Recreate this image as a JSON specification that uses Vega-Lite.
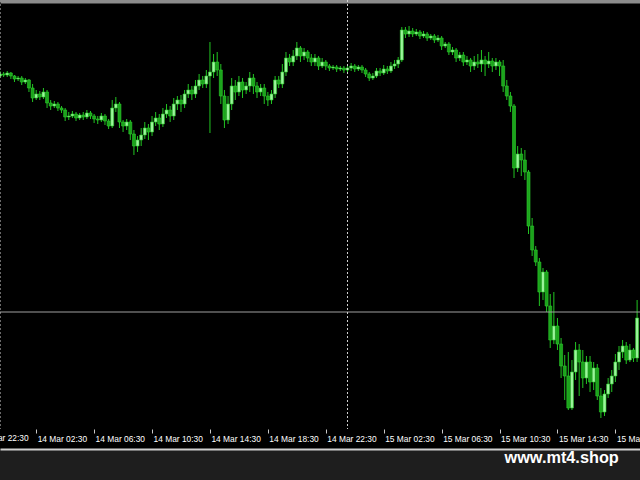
{
"$schema": "https://vega.github.io/schema/vega-lite/v6.json",
"width": 640,
"height": 449,
"autosize": {"type": "none"},
"padding": {"left": 0, "top": 0, "right": 0, "bottom": 31},
"background": "#1e1e1e",
"config": {"view": {"fill": "#000000", "stroke": null}},
"data": {"values": [
{"t":"2023-03-14T00:00","o":1.3373,"h":1.3378,"l":1.3371,"c":1.3375},
{"t":"2023-03-14T00:15","o":1.3375,"h":1.3377,"l":1.3372,"c":1.3374},
{"t":"2023-03-14T00:30","o":1.3374,"h":1.3378,"l":1.3372,"c":1.3376},
{"t":"2023-03-14T00:45","o":1.3376,"h":1.3377,"l":1.3370,"c":1.3373},
{"t":"2023-03-14T01:00","o":1.3373,"h":1.3374,"l":1.3367,"c":1.3370},
{"t":"2023-03-14T01:15","o":1.3370,"h":1.3373,"l":1.3368,"c":1.3371},
{"t":"2023-03-14T01:30","o":1.3371,"h":1.3373,"l":1.3364,"c":1.3367},
{"t":"2023-03-14T01:45","o":1.3367,"h":1.3371,"l":1.3365,"c":1.3369},
{"t":"2023-03-14T02:00","o":1.3369,"h":1.3370,"l":1.3357,"c":1.3361},
{"t":"2023-03-14T02:15","o":1.3361,"h":1.3365,"l":1.3347,"c":1.3351},
{"t":"2023-03-14T02:30","o":1.3351,"h":1.3359,"l":1.3349,"c":1.3355},
{"t":"2023-03-14T02:45","o":1.3355,"h":1.3358,"l":1.3349,"c":1.3352},
{"t":"2023-03-14T03:00","o":1.3352,"h":1.3361,"l":1.3350,"c":1.3357},
{"t":"2023-03-14T03:15","o":1.3357,"h":1.3359,"l":1.3341,"c":1.3346},
{"t":"2023-03-14T03:30","o":1.3346,"h":1.3349,"l":1.3339,"c":1.3343},
{"t":"2023-03-14T03:45","o":1.3343,"h":1.3348,"l":1.3341,"c":1.3345},
{"t":"2023-03-14T04:00","o":1.3345,"h":1.3347,"l":1.3338,"c":1.3341},
{"t":"2023-03-14T04:15","o":1.3341,"h":1.3343,"l":1.3336,"c":1.3339},
{"t":"2023-03-14T04:30","o":1.3339,"h":1.3341,"l":1.3328,"c":1.3332},
{"t":"2023-03-14T04:45","o":1.3332,"h":1.3337,"l":1.3329,"c":1.3333},
{"t":"2023-03-14T05:00","o":1.3333,"h":1.3338,"l":1.3331,"c":1.3335},
{"t":"2023-03-14T05:15","o":1.3335,"h":1.3337,"l":1.3328,"c":1.3331},
{"t":"2023-03-14T05:30","o":1.3331,"h":1.3336,"l":1.3329,"c":1.3334},
{"t":"2023-03-14T05:45","o":1.3334,"h":1.3337,"l":1.3329,"c":1.3332},
{"t":"2023-03-14T06:00","o":1.3332,"h":1.3339,"l":1.3330,"c":1.3336},
{"t":"2023-03-14T06:15","o":1.3336,"h":1.3338,"l":1.3330,"c":1.3333},
{"t":"2023-03-14T06:30","o":1.3333,"h":1.3335,"l":1.3326,"c":1.3330},
{"t":"2023-03-14T06:45","o":1.3330,"h":1.3333,"l":1.3325,"c":1.3329},
{"t":"2023-03-14T07:00","o":1.3329,"h":1.3336,"l":1.3327,"c":1.3333},
{"t":"2023-03-14T07:15","o":1.3333,"h":1.3335,"l":1.3324,"c":1.3328},
{"t":"2023-03-14T07:30","o":1.3328,"h":1.3330,"l":1.3320,"c":1.3323},
{"t":"2023-03-14T07:45","o":1.3323,"h":1.3349,"l":1.3321,"c":1.3341},
{"t":"2023-03-14T08:00","o":1.3341,"h":1.3352,"l":1.3337,"c":1.3345},
{"t":"2023-03-14T08:15","o":1.3345,"h":1.3347,"l":1.3321,"c":1.3327},
{"t":"2023-03-14T08:30","o":1.3327,"h":1.3329,"l":1.3317,"c":1.3323},
{"t":"2023-03-14T08:45","o":1.3323,"h":1.3330,"l":1.3319,"c":1.3327},
{"t":"2023-03-14T09:00","o":1.3327,"h":1.3329,"l":1.3309,"c":1.3315},
{"t":"2023-03-14T09:15","o":1.3315,"h":1.3319,"l":1.3294,"c":1.3303},
{"t":"2023-03-14T09:30","o":1.3303,"h":1.3313,"l":1.3297,"c":1.3309},
{"t":"2023-03-14T09:45","o":1.3309,"h":1.3321,"l":1.3303,"c":1.3314},
{"t":"2023-03-14T10:00","o":1.3314,"h":1.3327,"l":1.3310,"c":1.3321},
{"t":"2023-03-14T10:15","o":1.3321,"h":1.3325,"l":1.3309,"c":1.3317},
{"t":"2023-03-14T10:30","o":1.3317,"h":1.3333,"l":1.3313,"c":1.3327},
{"t":"2023-03-14T10:45","o":1.3327,"h":1.3337,"l":1.3323,"c":1.3331},
{"t":"2023-03-14T11:00","o":1.3331,"h":1.3335,"l":1.3319,"c":1.3325},
{"t":"2023-03-14T11:15","o":1.3325,"h":1.3341,"l":1.3322,"c":1.3335},
{"t":"2023-03-14T11:30","o":1.3335,"h":1.3345,"l":1.3331,"c":1.3339},
{"t":"2023-03-14T11:45","o":1.3339,"h":1.3343,"l":1.3327,"c":1.3333},
{"t":"2023-03-14T12:00","o":1.3333,"h":1.3351,"l":1.3329,"c":1.3345},
{"t":"2023-03-14T12:15","o":1.3345,"h":1.3353,"l":1.3339,"c":1.3349},
{"t":"2023-03-14T12:30","o":1.3349,"h":1.3354,"l":1.3337,"c":1.3345},
{"t":"2023-03-14T12:45","o":1.3345,"h":1.3359,"l":1.3341,"c":1.3355},
{"t":"2023-03-14T13:00","o":1.3355,"h":1.3365,"l":1.3351,"c":1.3359},
{"t":"2023-03-14T13:15","o":1.3359,"h":1.3363,"l":1.3349,"c":1.3355},
{"t":"2023-03-14T13:30","o":1.3355,"h":1.3369,"l":1.3351,"c":1.3363},
{"t":"2023-03-14T13:45","o":1.3363,"h":1.3375,"l":1.3359,"c":1.3369},
{"t":"2023-03-14T14:00","o":1.3369,"h":1.3373,"l":1.3361,"c":1.3365},
{"t":"2023-03-14T14:15","o":1.3365,"h":1.3379,"l":1.3361,"c":1.3373},
{"t":"2023-03-14T14:30","o":1.3373,"h":1.3407,"l":1.3316,"c":1.3377},
{"t":"2023-03-14T14:45","o":1.3377,"h":1.3395,"l":1.3371,"c":1.3387},
{"t":"2023-03-14T15:00","o":1.3387,"h":1.3397,"l":1.3373,"c":1.3379},
{"t":"2023-03-14T15:15","o":1.3379,"h":1.3385,"l":1.3345,"c":1.3353},
{"t":"2023-03-14T15:30","o":1.3353,"h":1.3359,"l":1.3321,"c":1.3329},
{"t":"2023-03-14T15:45","o":1.3329,"h":1.3353,"l":1.3325,"c":1.3345},
{"t":"2023-03-14T16:00","o":1.3345,"h":1.3371,"l":1.3339,"c":1.3363},
{"t":"2023-03-14T16:15","o":1.3363,"h":1.3369,"l":1.3349,"c":1.3357},
{"t":"2023-03-14T16:30","o":1.3357,"h":1.3373,"l":1.3353,"c":1.3367},
{"t":"2023-03-14T16:45","o":1.3367,"h":1.3371,"l":1.3351,"c":1.3359},
{"t":"2023-03-14T17:00","o":1.3359,"h":1.3367,"l":1.3355,"c":1.3363},
{"t":"2023-03-14T17:15","o":1.3363,"h":1.3377,"l":1.3357,"c":1.3371},
{"t":"2023-03-14T17:30","o":1.3371,"h":1.3375,"l":1.3355,"c":1.3363},
{"t":"2023-03-14T17:45","o":1.3363,"h":1.3367,"l":1.3351,"c":1.3357},
{"t":"2023-03-14T18:00","o":1.3357,"h":1.3365,"l":1.3353,"c":1.3361},
{"t":"2023-03-14T18:15","o":1.3361,"h":1.3365,"l":1.3345,"c":1.3353},
{"t":"2023-03-14T18:30","o":1.3353,"h":1.3357,"l":1.3343,"c":1.3349},
{"t":"2023-03-14T18:45","o":1.3349,"h":1.3359,"l":1.3345,"c":1.3355},
{"t":"2023-03-14T19:00","o":1.3355,"h":1.3373,"l":1.3351,"c":1.3369},
{"t":"2023-03-14T19:15","o":1.3369,"h":1.3373,"l":1.3361,"c":1.3365},
{"t":"2023-03-14T19:30","o":1.3365,"h":1.3385,"l":1.3361,"c":1.3377},
{"t":"2023-03-14T19:45","o":1.3377,"h":1.3397,"l":1.3373,"c":1.3391},
{"t":"2023-03-14T20:00","o":1.3391,"h":1.3395,"l":1.3383,"c":1.3387},
{"t":"2023-03-14T20:15","o":1.3387,"h":1.3399,"l":1.3383,"c":1.3393},
{"t":"2023-03-14T20:30","o":1.3393,"h":1.3407,"l":1.3389,"c":1.3401},
{"t":"2023-03-14T20:45","o":1.3401,"h":1.3403,"l":1.3387,"c":1.3393},
{"t":"2023-03-14T21:00","o":1.3393,"h":1.3401,"l":1.3389,"c":1.3397},
{"t":"2023-03-14T21:15","o":1.3397,"h":1.3399,"l":1.3387,"c":1.3391},
{"t":"2023-03-14T21:30","o":1.3391,"h":1.3395,"l":1.3383,"c":1.3387},
{"t":"2023-03-14T21:45","o":1.3387,"h":1.3395,"l":1.3383,"c":1.3391},
{"t":"2023-03-14T22:00","o":1.3391,"h":1.3393,"l":1.3379,"c":1.3383},
{"t":"2023-03-14T22:15","o":1.3383,"h":1.3391,"l":1.3381,"c":1.3387},
{"t":"2023-03-14T22:30","o":1.3387,"h":1.3389,"l":1.3379,"c":1.3383},
{"t":"2023-03-14T22:45","o":1.3383,"h":1.3385,"l":1.3378,"c":1.3381},
{"t":"2023-03-14T23:00","o":1.3381,"h":1.3384,"l":1.3379,"c":1.3382},
{"t":"2023-03-14T23:15","o":1.3382,"h":1.3384,"l":1.3377,"c":1.3380},
{"t":"2023-03-14T23:30","o":1.3380,"h":1.3383,"l":1.3378,"c":1.3381},
{"t":"2023-03-14T23:45","o":1.3381,"h":1.3383,"l":1.3376,"c":1.3379},
{"t":"2023-03-15T00:00","o":1.3379,"h":1.3384,"l":1.3377,"c":1.3381},
{"t":"2023-03-15T00:15","o":1.3381,"h":1.3386,"l":1.3378,"c":1.3383},
{"t":"2023-03-15T00:30","o":1.3383,"h":1.3385,"l":1.3377,"c":1.3380},
{"t":"2023-03-15T00:45","o":1.3380,"h":1.3384,"l":1.3378,"c":1.3382},
{"t":"2023-03-15T01:00","o":1.3382,"h":1.3384,"l":1.3376,"c":1.3379},
{"t":"2023-03-15T01:15","o":1.3379,"h":1.3381,"l":1.3372,"c":1.3375},
{"t":"2023-03-15T01:30","o":1.3375,"h":1.3377,"l":1.3368,"c":1.3371},
{"t":"2023-03-15T01:45","o":1.3371,"h":1.3376,"l":1.3369,"c":1.3373},
{"t":"2023-03-15T02:00","o":1.3373,"h":1.3381,"l":1.3371,"c":1.3378},
{"t":"2023-03-15T02:15","o":1.3378,"h":1.3381,"l":1.3373,"c":1.3376},
{"t":"2023-03-15T02:30","o":1.3376,"h":1.3384,"l":1.3374,"c":1.3380},
{"t":"2023-03-15T02:45","o":1.3380,"h":1.3383,"l":1.3375,"c":1.3378},
{"t":"2023-03-15T03:00","o":1.3378,"h":1.3387,"l":1.3376,"c":1.3383},
{"t":"2023-03-15T03:15","o":1.3383,"h":1.3389,"l":1.3380,"c":1.3385},
{"t":"2023-03-15T03:30","o":1.3385,"h":1.3392,"l":1.3381,"c":1.3389},
{"t":"2023-03-15T03:45","o":1.3389,"h":1.3422,"l":1.3387,"c":1.3419},
{"t":"2023-03-15T04:00","o":1.3419,"h":1.3422,"l":1.3411,"c":1.3415},
{"t":"2023-03-15T04:15","o":1.3415,"h":1.3423,"l":1.3412,"c":1.3418},
{"t":"2023-03-15T04:30","o":1.3418,"h":1.3421,"l":1.3412,"c":1.3415},
{"t":"2023-03-15T04:45","o":1.3415,"h":1.3420,"l":1.3413,"c":1.3417},
{"t":"2023-03-15T05:00","o":1.3417,"h":1.3419,"l":1.3410,"c":1.3413},
{"t":"2023-03-15T05:15","o":1.3413,"h":1.3418,"l":1.3411,"c":1.3415},
{"t":"2023-03-15T05:30","o":1.3415,"h":1.3417,"l":1.3408,"c":1.3411},
{"t":"2023-03-15T05:45","o":1.3411,"h":1.3415,"l":1.3409,"c":1.3413},
{"t":"2023-03-15T06:00","o":1.3413,"h":1.3415,"l":1.3406,"c":1.3409},
{"t":"2023-03-15T06:15","o":1.3409,"h":1.3414,"l":1.3407,"c":1.3411},
{"t":"2023-03-15T06:30","o":1.3411,"h":1.3413,"l":1.3399,"c":1.3403},
{"t":"2023-03-15T06:45","o":1.3403,"h":1.3407,"l":1.3401,"c":1.3405},
{"t":"2023-03-15T07:00","o":1.3405,"h":1.3407,"l":1.3394,"c":1.3397},
{"t":"2023-03-15T07:15","o":1.3397,"h":1.3402,"l":1.3394,"c":1.3399},
{"t":"2023-03-15T07:30","o":1.3399,"h":1.3401,"l":1.3387,"c":1.3391},
{"t":"2023-03-15T07:45","o":1.3391,"h":1.3397,"l":1.3388,"c":1.3394},
{"t":"2023-03-15T08:00","o":1.3394,"h":1.3397,"l":1.3383,"c":1.3387},
{"t":"2023-03-15T08:15","o":1.3387,"h":1.3393,"l":1.3384,"c":1.3389},
{"t":"2023-03-15T08:30","o":1.3389,"h":1.3391,"l":1.3377,"c":1.3383},
{"t":"2023-03-15T08:45","o":1.3383,"h":1.3393,"l":1.3379,"c":1.3387},
{"t":"2023-03-15T09:00","o":1.3387,"h":1.3395,"l":1.3381,"c":1.3385},
{"t":"2023-03-15T09:15","o":1.3385,"h":1.3399,"l":1.3377,"c":1.3389},
{"t":"2023-03-15T09:30","o":1.3389,"h":1.3393,"l":1.3373,"c":1.3385},
{"t":"2023-03-15T09:45","o":1.3385,"h":1.3397,"l":1.3381,"c":1.3388},
{"t":"2023-03-15T10:00","o":1.3388,"h":1.3391,"l":1.3377,"c":1.3383},
{"t":"2023-03-15T10:15","o":1.3383,"h":1.3391,"l":1.3379,"c":1.3387},
{"t":"2023-03-15T10:30","o":1.3387,"h":1.3389,"l":1.3373,"c":1.3383},
{"t":"2023-03-15T10:45","o":1.3383,"h":1.3389,"l":1.3357,"c":1.3363},
{"t":"2023-03-15T11:00","o":1.3363,"h":1.3369,"l":1.3349,"c":1.3353},
{"t":"2023-03-15T11:15","o":1.3353,"h":1.3357,"l":1.3337,"c":1.3343},
{"t":"2023-03-15T11:30","o":1.3343,"h":1.3345,"l":1.3271,"c":1.3281},
{"t":"2023-03-15T11:45","o":1.3281,"h":1.3303,"l":1.3277,"c":1.3295},
{"t":"2023-03-15T12:00","o":1.3295,"h":1.3301,"l":1.3273,"c":1.3289},
{"t":"2023-03-15T12:15","o":1.3289,"h":1.3299,"l":1.3269,"c":1.3277},
{"t":"2023-03-15T12:30","o":1.3277,"h":1.3279,"l":1.3215,"c":1.3223},
{"t":"2023-03-15T12:45","o":1.3223,"h":1.3231,"l":1.3193,"c":1.3199},
{"t":"2023-03-15T13:00","o":1.3199,"h":1.3203,"l":1.3183,"c":1.3187},
{"t":"2023-03-15T13:15","o":1.3187,"h":1.3191,"l":1.3143,"c":1.3157},
{"t":"2023-03-15T13:30","o":1.3157,"h":1.3181,"l":1.3149,"c":1.3177},
{"t":"2023-03-15T13:45","o":1.3177,"h":1.3179,"l":1.3137,"c":1.3143},
{"t":"2023-03-15T14:00","o":1.3143,"h":1.3155,"l":1.3101,"c":1.3109},
{"t":"2023-03-15T14:15","o":1.3109,"h":1.3157,"l":1.3105,"c":1.3123},
{"t":"2023-03-15T14:30","o":1.3123,"h":1.3131,"l":1.3099,"c":1.3105},
{"t":"2023-03-15T14:45","o":1.3105,"h":1.3111,"l":1.3071,"c":1.3083},
{"t":"2023-03-15T15:00","o":1.3083,"h":1.3094,"l":1.3049,"c":1.3073},
{"t":"2023-03-15T15:15","o":1.3073,"h":1.3097,"l":1.3039,"c":1.3041},
{"t":"2023-03-15T15:30","o":1.3041,"h":1.3089,"l":1.3039,"c":1.3077},
{"t":"2023-03-15T15:45","o":1.3077,"h":1.3107,"l":1.3069,"c":1.3099},
{"t":"2023-03-15T16:00","o":1.3099,"h":1.3105,"l":1.3053,"c":1.3087},
{"t":"2023-03-15T16:15","o":1.3087,"h":1.3099,"l":1.3061,"c":1.3071},
{"t":"2023-03-15T16:30","o":1.3071,"h":1.3093,"l":1.3065,"c":1.3087},
{"t":"2023-03-15T16:45","o":1.3087,"h":1.3093,"l":1.3057,"c":1.3067},
{"t":"2023-03-15T17:00","o":1.3067,"h":1.3087,"l":1.3059,"c":1.3081},
{"t":"2023-03-15T17:15","o":1.3081,"h":1.3085,"l":1.3049,"c":1.3053},
{"t":"2023-03-15T17:30","o":1.3053,"h":1.3061,"l":1.3031,"c":1.3037},
{"t":"2023-03-15T17:45","o":1.3037,"h":1.3059,"l":1.3033,"c":1.3055},
{"t":"2023-03-15T18:00","o":1.3055,"h":1.3071,"l":1.3051,"c":1.3065},
{"t":"2023-03-15T18:15","o":1.3065,"h":1.3079,"l":1.3057,"c":1.3073},
{"t":"2023-03-15T18:30","o":1.3073,"h":1.3095,"l":1.3067,"c":1.3087},
{"t":"2023-03-15T18:45","o":1.3087,"h":1.3103,"l":1.3079,"c":1.3097},
{"t":"2023-03-15T19:00","o":1.3097,"h":1.3109,"l":1.3091,"c":1.3103},
{"t":"2023-03-15T19:15","o":1.3103,"h":1.3107,"l":1.3085,"c":1.3089},
{"t":"2023-03-15T19:30","o":1.3089,"h":1.3105,"l":1.3087,"c":1.3099},
{"t":"2023-03-15T19:45","o":1.3099,"h":1.3101,"l":1.3087,"c":1.3091},
{"t":"2023-03-15T20:00","o":1.3091,"h":1.3149,"l":1.3087,"c":1.3131}
]},
"layer": [
{
"mark": {"type": "rule", "color": "#22c422", "strokeWidth": 1},
"encoding": {
"x": {"field": "t", "type": "temporal",
"scale": {"domain": [{"year": 2023, "month": 3, "date": 14, "hours": 0}, {"year": 2023, "month": 3, "date": 15, "hours": 20, "minutes": 12}], "padding": 0},
"axis": {"orient": "bottom", "offset": -20, "domain": false, "grid": false, "ticks": true, "tickSize": 4, "tickColor": "#c8c8c8", "tickWidth": 1,
"values": [
{"year": 2023, "month": 3, "date": 14, "hours": 2, "minutes": 30},
{"year": 2023, "month": 3, "date": 14, "hours": 6, "minutes": 30},
{"year": 2023, "month": 3, "date": 14, "hours": 10, "minutes": 30},
{"year": 2023, "month": 3, "date": 14, "hours": 14, "minutes": 30},
{"year": 2023, "month": 3, "date": 14, "hours": 18, "minutes": 30},
{"year": 2023, "month": 3, "date": 14, "hours": 22, "minutes": 30},
{"year": 2023, "month": 3, "date": 15, "hours": 2, "minutes": 30},
{"year": 2023, "month": 3, "date": 15, "hours": 6, "minutes": 30},
{"year": 2023, "month": 3, "date": 15, "hours": 10, "minutes": 30},
{"year": 2023, "month": 3, "date": 15, "hours": 14, "minutes": 30},
{"year": 2023, "month": 3, "date": 15, "hours": 18, "minutes": 30}],
"format": "%d %b %H:%M", "labelAlign": "left", "labelBaseline": "top", "labelPadding": 1, "labelOffset": 1,
"labelColor": "#ffffff", "labelFont": "Liberation Sans", "labelFontSize": 8.4,
"labelFlush": false, "labelOverlap": false, "labelBound": false, "title": null}},
"y": {"field": "h", "type": "quantitative", "scale": {"domain": [1.3, 1.3449], "nice": false, "zero": false}, "axis": null},
"y2": {"field": "l"}
}
},
{
"mark": {"type": "bar", "size": 3, "stroke": "#2ccc2c", "strokeWidth": 0.6},
"encoding": {
"x": {"field": "t", "type": "temporal",
"scale": {"domain": [{"year": 2023, "month": 3, "date": 14, "hours": 0}, {"year": 2023, "month": 3, "date": 15, "hours": 20, "minutes": 12}], "padding": 0},
"axis": {"orient": "top", "domain": true, "domainColor": "#8c8c8c", "domainWidth": 6, "ticks": false, "labels": false, "grid": false, "title": null}},
"y": {"field": "o", "type": "quantitative", "scale": {"domain": [1.3, 1.3449], "nice": false, "zero": false}, "axis": null},
"y2": {"field": "c"},
"color": {"condition": {"test": "datum.c >= datum.o", "value": "#9cf59c"}, "value": "#1ca31c"}
}
},
{
"data": {"values": [{"level": 1.3137}]},
"mark": {"type": "rule", "color": "#a0a0a0", "strokeWidth": 1.2},
"encoding": {
"y": {"field": "level", "type": "quantitative", "scale": {"domain": [1.3, 1.3449], "nice": false, "zero": false}, "axis": null}
}
},
{
"data": {"values": [{"t": "2023-03-13T22:30", "label": "13 Mar 22:30"}]},
"mark": {"type": "text", "align": "left", "baseline": "middle", "dx": 1, "color": "#ffffff", "font": "Liberation Sans", "fontSize": 8.4},
"encoding": {
"x": {"field": "t", "type": "temporal",
"scale": {"domain": [{"year": 2023, "month": 3, "date": 14, "hours": 0}, {"year": 2023, "month": 3, "date": 15, "hours": 20, "minutes": 12}], "padding": 0},
"axis": null},
"y": {"datum": 1.3011, "type": "quantitative", "scale": {"domain": [1.3, 1.3449], "nice": false, "zero": false}, "axis": null},
"text": {"field": "label"}
}
},
{
"data": {"values": [
{"t": "2023-03-14T00:00", "top": 1.3449, "bot": 1.302},
{"t": "2023-03-15T00:00", "top": 1.3449, "bot": 1.302}]},
"mark": {"type": "rule", "color": "#d0d0d0", "strokeWidth": 1, "strokeDash": [2, 2]},
"encoding": {
"x": {"field": "t", "type": "temporal",
"scale": {"domain": [{"year": 2023, "month": 3, "date": 14, "hours": 0}, {"year": 2023, "month": 3, "date": 15, "hours": 20, "minutes": 12}], "padding": 0},
"axis": {"orient": "bottom", "offset": 0, "domain": true, "domainColor": "#d0d0d0", "domainWidth": 2, "ticks": false, "labels": false, "grid": false,
"title": "www.mt4.shop", "titleColor": "#ffffff", "titleFont": "Liberation Sans", "titleFontWeight": "bold", "titleFontSize": 16.3,
"titleAlign": "left", "titleBaseline": "alphabetic", "titleX": 504, "titleY": 13}},
"y": {"field": "top", "type": "quantitative", "scale": {"domain": [1.3, 1.3449], "nice": false, "zero": false}, "axis": null},
"y2": {"field": "bot"}
}
}
],
"resolve": {"axis": {"x": "independent"}}
}
